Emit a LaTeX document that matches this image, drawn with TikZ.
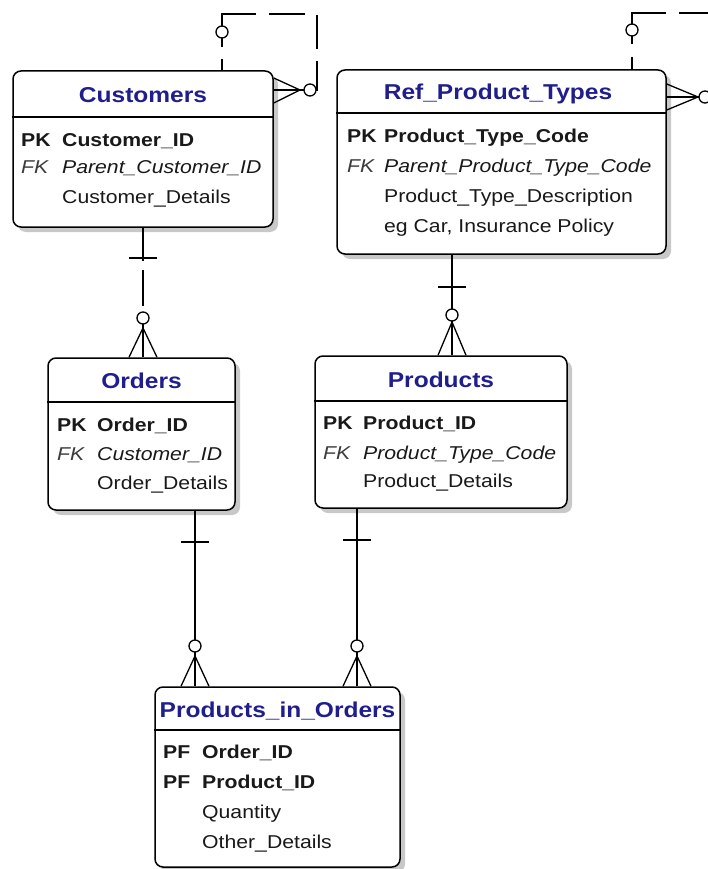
\documentclass[tikz,border=0pt]{standalone}
\usepackage{fontspec}
\setmainfont{Liberation Sans}[FakeStretch=1.14]
\usetikzlibrary{shadows}
\definecolor{titleblue}{RGB}{32,30,140}
\definecolor{txt}{RGB}{25,25,25}
\definecolor{fkc}{RGB}{60,60,60}
\definecolor{shadowc}{RGB}{200,200,200}
\newcommand\vrelation[7]{% from, to, x, bar y, circle y, apex y, dash opts
  \draw[rel,#7] (#1.south -| #3,0) -- (#2.north -| #3,0);
  \draw[rel] (#3-14,#4) -- (#3+14,#4);
  \draw[rel] (#2.north -| #3-14,0) -- (#3,#6) -- (#2.north -| #3+14,0);
  \draw[rel,fill=white] (#3,#5) circle[radius=6];
}
\begin{document}
\begin{tikzpicture}[x=1pt,y=-1pt,
  entity/.style={draw=black, line width=1.5pt, rounded corners=8pt, fill=white, inner sep=0pt,
    drop shadow={shadow xshift=5pt, shadow yshift=-5pt, fill=shadowc, opacity=1}},
  sepline/.style={line width=1.3pt},
  rel/.style={line width=1.3pt, draw=black},
  ttl/.style={anchor=base, text=titleblue, font=\fontsize{21.5}{24}\selectfont\bfseries, inner sep=0pt},
  fld/.style={anchor=base west, text=txt, font=\fontsize{18.6}{20}\selectfont, inner sep=0pt},
  key/.style={fld, font=\fontsize{18.6}{20}\selectfont\bfseries},
  fkkey/.style={fld, text=fkc, font=\fontsize{18.6}{20}\selectfont\itshape},
  fkfld/.style={fld, font=\fontsize{18.6}{20}\selectfont\itshape},
  pkfld/.style={fld, font=\fontsize{18.6}{20}\selectfont\bfseries}]
\useasboundingbox (0,0) rectangle (708,869);
\clip (0,0) rectangle (708,869);
\fill[white] (0,0) rectangle (708,869);

% entity boxes
\node[entity, minimum width=260pt, minimum height=156pt] (cust) at (143,149) {};
\node[entity, minimum width=329pt, minimum height=184pt] (ref) at (501.5,162) {};
\node[entity, minimum width=187pt, minimum height=152pt] (ord) at (141.5,434) {};
\node[entity, minimum width=252pt, minimum height=152pt] (prod) at (441,432) {};
\node[entity, minimum width=245pt, minimum height=180pt] (pio) at (277.5,777) {};

% header separators
\draw[sepline] (cust.west |- 0,117) -- (cust.east |- 0,117);
\draw[sepline] (ref.west |- 0,113) -- (ref.east |- 0,113);
\draw[sepline] (ord.west |- 0,402) -- (ord.east |- 0,402);
\draw[sepline] (prod.west |- 0,401) -- (prod.east |- 0,401);
\draw[sepline] (pio.west |- 0,730) -- (pio.east |- 0,730);

% Customers
\node[ttl] (cust-t) at (143,103) {Customers};
\node[key] (cust-k1) at (21,146.5) {PK};
\node[pkfld] (cust-f1) at (62,146.5) {Customer\_ID};
\node[fkkey] (cust-k2) at (21,174) {FK};
\node[fkfld] (cust-f2) at (62,174) {Parent\_Customer\_ID};
\node[fld] (cust-f3) at (62,203) {Customer\_Details};

% Ref_Product_Types
\node[ttl] (ref-t) at (498,100) {Ref\_Product\_Types};
\node[key] (ref-k1) at (347,142.5) {PK};
\node[pkfld] (ref-f1) at (384,142.5) {Product\_Type\_Code};
\node[fkkey] (ref-k2) at (347,172) {FK};
\node[fkfld] (ref-f2) at (384,172) {Parent\_Product\_Type\_Code};
\node[fld] (ref-f3) at (384,202) {Product\_Type\_Description};
\node[fld] (ref-f4) at (384,232) {eg Car, Insurance Policy};

% Orders
\node[ttl] (ord-t) at (141.5,388) {Orders};
\node[key] (ord-k1) at (57,431) {PK};
\node[pkfld] (ord-f1) at (97,431) {Order\_ID};
\node[fkkey] (ord-k2) at (57,460) {FK};
\node[fkfld] (ord-f2) at (97,460) {Customer\_ID};
\node[fld] (ord-f3) at (97,489) {Order\_Details};

% Products
\node[ttl] (prod-t) at (441,387) {Products};
\node[key] (prod-k1) at (323,429) {PK};
\node[pkfld] (prod-f1) at (363,429) {Product\_ID};
\node[fkkey] (prod-k2) at (323,459) {FK};
\node[fkfld] (prod-f2) at (363,459) {Product\_Type\_Code};
\node[fld] (prod-f3) at (363,487) {Product\_Details};

% Products_in_Orders
\node[ttl] (pio-t) at (277.5,717) {Products\_in\_Orders};
\node[key] (pio-k1) at (163,758) {PF};
\node[pkfld] (pio-f1) at (202,758) {Order\_ID};
\node[key] (pio-k2) at (163,788) {PF};
\node[pkfld] (pio-f2) at (202,788) {Product\_ID};
\node[fld] (pio-f3) at (202,818) {Quantity};
\node[fld] (pio-f4) at (202,848) {Other\_Details};

% Customers self relation
\draw[rel, dash pattern=on 11pt off 12pt on 67pt off 13pt on 36pt off 13pt on 34pt off 12pt on 200pt]
  (cust.north -| 222,0) -- (222,14) -- (317,14) -- (317,90) -- (300,90);
\draw[rel] (cust.east |- 0,78) -- (300,90) -- (cust.east |- 0,103);
\draw[rel] (cust.east |- 0,90) -- (300,90);
\draw[rel,fill=white] (222,32) circle[radius=6];
\draw[rel,fill=white] (310,90) circle[radius=6];

% Ref_Product_Types self relation
\draw[rel, dash pattern=on 12pt off 13pt on 65pt off 13pt on 200pt]
  (ref.north -| 632,0) -- (632,13) -- (730,13);
\draw[rel] (ref.east |- 0,84) -- (698,97) -- (ref.east |- 0,110);
\draw[rel] (ref.east |- 0,97) -- (720,97);
\draw[rel,fill=white] (632,30) circle[radius=6];
\draw[rel,fill=white] (705,97) circle[radius=6];

% relations between entities
\vrelation{cust}{ord}{143}{258}{318}{328}{dash pattern=on 33pt off 9pt on 36pt off 7pt on 200pt}
\vrelation{ref}{prod}{452}{287}{315}{322}{}
\vrelation{ord}{pio}{195}{542}{646}{656}{}
\vrelation{prod}{pio}{357}{540}{646}{656}{}
\end{tikzpicture}
\end{document}
